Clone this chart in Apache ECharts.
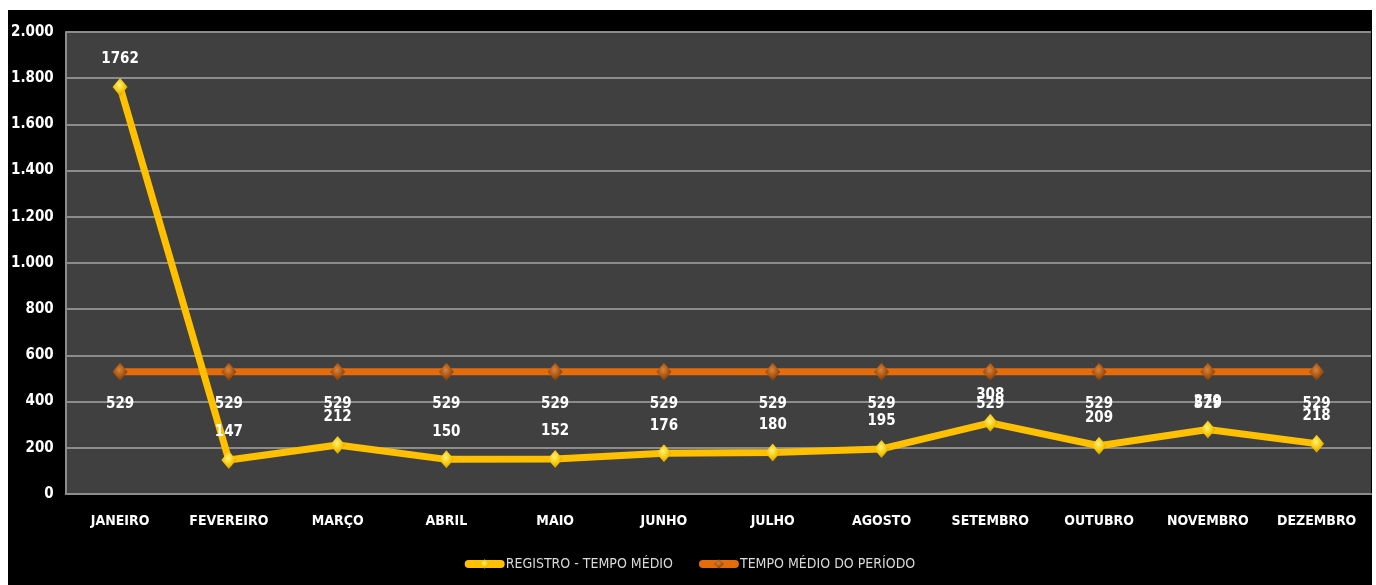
<!DOCTYPE html>
<html>
<head>
<meta charset="utf-8">
<script src="https://cdn.jsdelivr.net/npm/echarts@6/dist/echarts.min.js"></script>
<style>
  html, body { margin: 0; padding: 0; background: #ffffff; }
  #chart { position: absolute; left: 8px; top: 10px; width: 1364px; height: 575px; background: #000000; }
</style>
</head>
<body>
<div id="chart"></div>
<script>
// Months of the period
const months = ['JANEIRO', 'FEVEREIRO', 'MARÇO', 'ABRIL', 'MAIO', 'JUNHO', 'JULHO', 'AGOSTO', 'SETEMBRO', 'OUTUBRO', 'NOVEMBRO', 'DEZEMBRO'];
// Monthly average registration time
const registroTempoMedio = [1762, 147, 212, 150, 152, 176, 180, 195, 308, 209, 279, 218];
// Average over the whole period
const tempoMedioPeriodo = [529, 529, 529, 529, 529, 529, 529, 529, 529, 529, 529, 529];
const seriesNames = ['REGISTRO - TEMPO MÉDIO', 'TEMPO MÉDIO DO PERÍODO'];

const font = "'Liberation Sans Narrow', 'DejaVu Sans Condensed', 'Open Sans', sans-serif";

const yellowMarker = new echarts.graphic.RadialGradient(0.45, 0.4, 0.7, [
  { offset: 0, color: '#FFF27A' },
  { offset: 0.55, color: '#F5C400' },
  { offset: 1, color: '#B88A00' }
]);
const brownMarker = new echarts.graphic.RadialGradient(0.45, 0.4, 0.7, [
  { offset: 0, color: '#D9843A' },
  { offset: 0.55, color: '#A5520F' },
  { offset: 1, color: '#6B3206' }
]);

const chart = echarts.init(document.getElementById('chart'));
chart.setOption({
  backgroundColor: '#000000',
  animation: false,
  grid: {
    left: 56, top: 22, width: 1307, height: 462,
    show: true, backgroundColor: '#404040', borderWidth: 0
  },
  legend: {
    bottom: 9,
    left: 'center',
    itemWidth: 32,
    itemHeight: 12,
    itemGap: 26,
    lineStyle: { width: 8, cap: 'round' },
    textStyle: { color: '#d9d9d9', fontFamily: font, fontSize: 14 },
    data: seriesNames
  },
  xAxis: {
    type: 'category',
    data: months,
    boundaryGap: true,
    axisLine: { show: true, lineStyle: { color: '#8c8c8c', width: 2 } },
    axisTick: { show: false },
    axisLabel: { interval: 0, color: '#ffffff', fontFamily: font, fontWeight: 'bold', fontSize: 14, margin: 20 }
  },
  yAxis: {
    type: 'value',
    min: 0, max: 2000, interval: 200,
    axisLine: { show: true, lineStyle: { color: '#8c8c8c', width: 2 } },
    axisTick: { show: false },
    splitLine: { lineStyle: { color: '#8c8c8c', width: 2 } },
    axisLabel: {
      color: '#ffffff', fontFamily: font, fontWeight: 'bold', fontSize: 15, margin: 12,
      formatter: v => v >= 1000 ? Math.floor(v / 1000) + '.' + String(v % 1000).padStart(3, '0') : String(v)
    }
  },
  series: [
    {
      name: seriesNames[1],
      type: 'line',
      data: tempoMedioPeriodo,
      z: 2,
      lineStyle: { color: '#E46C0A', width: 7 },
      itemStyle: { color: brownMarker, borderWidth: 0 },
      symbol: 'diamond',
      symbolSize: [15, 18],
      label: {
        show: true, position: 'bottom', distance: 16,
        color: '#ffffff', fontFamily: font, fontWeight: 'bold', fontSize: 15
      }
    },
    {
      name: seriesNames[0],
      type: 'line',
      data: registroTempoMedio,
      z: 3,
      lineStyle: { color: '#FFC000', width: 7 },
      itemStyle: { color: yellowMarker, borderWidth: 0 },
      symbol: 'diamond',
      symbolSize: [15, 18],
      label: {
        show: true, position: 'top', distance: 11,
        color: '#ffffff', fontFamily: font, fontWeight: 'bold', fontSize: 15
      }
    }
  ]
});
</script>
</body>
</html>
